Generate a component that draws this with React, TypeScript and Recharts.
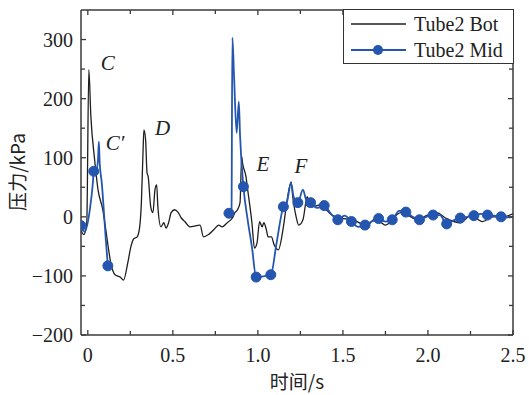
import { LineChart, Line, XAxis, YAxis, Legend, ReferenceDot } from 'recharts';

// Tube2 Bot (black)
const botTime = [
  -0.04, -0.025, -0.012, -0.006, 0.006, 0.018, 0.04, 0.06, 0.088, 0.106, 0.12, 0.135, 0.16, 0.19, 0.21,
  0.235, 0.253, 0.27, 0.29, 0.305, 0.315, 0.325, 0.33, 0.34, 0.348, 0.355, 0.37, 0.383, 0.395, 0.405,
  0.412, 0.43, 0.447, 0.46, 0.475, 0.49, 0.51, 0.53, 0.55, 0.57, 0.6, 0.64, 0.66, 0.68, 0.71, 0.74,
  0.77, 0.79, 0.82, 0.85, 0.865, 0.88, 0.895, 0.905, 0.91, 0.93, 0.94, 0.965, 0.98, 0.995, 1.01, 1.025,
  1.035, 1.05, 1.06, 1.08, 1.095, 1.12, 1.15, 1.17, 1.195, 1.205, 1.225, 1.24, 1.265, 1.29, 1.3, 1.32,
  1.365, 1.435, 1.48, 1.56, 1.64, 1.69, 1.75, 1.84, 1.88, 1.94, 1.99, 2.05, 2.11, 2.19, 2.25, 2.32,
  2.38, 2.44, 2.5,
];
const botPressure = [
  -22, -30, -22, -10, 249, 170, 97, 46, 12, -22, -51, -78, -98, -102, -107,
  -78, -51, -37, -34, -17, 24, 113, 147, 130, 75, 68, 17, 7, 46, 54,
  17, -17, -10, -19, -10, 7, 12, 8, -2, -8, -17, -15, -14, -34, -30, -22,
  -14, -17, -10, -2, 7, 12, 24, 102, 91, 68, 46, -10, -53, -44, -8, -17,
  -10, -22, -34, -34, -47, -56, -17, 24, 59, 34, 0, -14, -5, 34, 25, 17,
  20, 3, -2, -5, -15, -3, -14, 7, 3, -5, 2, 7, -3, -10, 2, -8,
  0, 0, 5,
];

// Tube2 Mid (blue), null = no record
const midTime = [
  -0.04, -0.018, 0.012, 0.03, 0.035, 0.047, 0.06, 0.065, 0.07, 0.082, 0.106, 0.118, 0.5,
  0.83, 0.845, 0.85, 0.86, 0.875, 0.888, 0.895, 0.915, 0.94, 0.965, 0.99, 1.076, 1.11, 1.15, 1.17,
  1.195, 1.21, 1.235, 1.265, 1.285, 1.31, 1.35, 1.39, 1.43, 1.47, 1.51, 1.55, 1.59, 1.63, 1.67,
  1.71, 1.75, 1.79, 1.83, 1.87, 1.91, 1.95, 1.99, 2.03, 2.07, 2.11, 2.15, 2.19, 2.23, 2.27, 2.31,
  2.35, 2.39, 2.43, 2.47, 2.5,
];
const midPressure = [
  -15, -25, 12, 58, 77, 75, 97, 127, 91, 58, -39, -83, null,
  6, 12, 303, 237, 142, 195, 139, 51, -5, -51, -102, -98, -44, 17, 24,
  57, 34, 24, 46, 28, 24, 15, 19, 5, -5, 2, -8, -17, -14, -8,
  -3, -8, -5, 10, 8, 0, -5, 0, 3, 3, -12, -6, -2, 0, 2, 5,
  3, 2, 0, -1, 0,
];
const midMarkerTimes = [
  -0.04, 0.035, 0.118, 0.83, 0.915, 0.99, 1.076, 1.15, 1.235, 1.31, 1.39, 1.47, 1.55, 1.63,
  1.71, 1.79, 1.87, 1.95, 2.03, 2.11, 2.19, 2.27, 2.35, 2.43,
];

const xTicks = [0, 0.25, 0.5, 0.75, 1, 1.25, 1.5, 1.75, 2, 2.25, 2.5];
const yTicks = [-200, -150, -100, -50, 0, 50, 100, 150, 200, 250, 300];

// peak annotations [label, t, p]
const notes: [string, number, number][] = [
  ['C', 0.118, 256],
  ['C′', 0.16, 122],
  ['D', 0.44, 147],
  ['E', 1.03, 85],
  ['F', 1.253, 83],
];

const botData = botTime.map((t, i) => ({ t, p: botPressure[i] }));
const midData = midTime.map((t, i) => ({ t, p: midPressure[i], m: midMarkerTimes.includes(t) }));

const SERIF = '"Liberation Serif", "DejaVu Serif", serif';
const CJK = '"Noto Sans CJK SC", sans-serif';
const AXIS = '#3a3a3a';
const BLUE = '#2456b0';
const BLACK = '#1e1e1e';

const isMajor = (v: number, step: number) => Math.abs(v / step - Math.round(v / step)) < 1e-6;
const fmtX = (v: number) => (v === 0 ? '0' : v.toFixed(1));
const fmtY = (v: number) => (v < 0 ? '−' + Math.abs(v) : String(v));

const BottomTick = ({ x, y, payload }: any) => {
  const major = isMajor(payload.value, 0.5);
  return (
    <g>
      <line x1={x} y1={y} x2={x} y2={y - (major ? 5 : 4)} stroke={AXIS} strokeWidth={1.3} />
      {major && (
        <text x={x} y={y + 27} textAnchor="middle" fontFamily={SERIF} fontSize={20} fill="#222">
          {fmtX(payload.value)}
        </text>
      )}
    </g>
  );
};

const TopTick = ({ x, y, payload }: any) => (
  <line x1={x} y1={y} x2={x} y2={y + (isMajor(payload.value, 0.5) ? 5 : 4)} stroke={AXIS} strokeWidth={1.3} />
);

const LeftTick = ({ x, y, payload }: any) => {
  const major = isMajor(payload.value, 100);
  return (
    <g>
      <line x1={x} y1={y} x2={x + (major ? 5 : 4)} y2={y} stroke={AXIS} strokeWidth={1.3} />
      {major && (
        <text x={x - 8} y={y + 7} textAnchor="end" fontFamily={SERIF} fontSize={20} fill="#222">
          {fmtY(payload.value)}
        </text>
      )}
    </g>
  );
};

const RightTick = ({ x, y, payload }: any) => (
  <line x1={x} y1={y} x2={x - (isMajor(payload.value, 100) ? 5 : 4)} y2={y} stroke={AXIS} strokeWidth={1.3} />
);

const YTitle = () => (
  <text x={20} y={172} transform="rotate(-90 20 172)" textAnchor="middle" dominantBaseline="middle"
    fontFamily={CJK} fontSize={19} fill="#222">
    压力/kPa
  </text>
);

const XTitle = () => (
  <text x={297} y={389} textAnchor="middle" fontFamily={CJK} fontSize={19} fill="#222">
    时间/s
  </text>
);

const MidDot = (props: any) => {
  const { cx, cy, payload, key } = props;
  if (cy == null || !payload?.m) return <g key={key} />;
  return <circle key={key} cx={cx} cy={cy} r={5} fill={BLUE} stroke={BLUE} />;
};

const LegendBox = ({ payload }: any) => (
  <div style={{ border: '1.5px solid #333', background: '#fff', paddingTop: 1, boxSizing: 'border-box', height: 55 }}>
    {(payload || []).map((item: any) => (
      <div key={item.value} style={{ display: 'flex', alignItems: 'center', height: 26 }}>
        <svg width={66} height={14} style={{ marginLeft: 4 }}>
          <line x1={3} y1={7} x2={58} y2={7} stroke={item.color} strokeWidth={item.color === BLUE ? 1.8 : 1.3} />
          {item.color === BLUE && <circle cx={30} cy={7} r={5} fill={BLUE} />}
        </svg>
        <span style={{ fontFamily: SERIF, fontSize: 20, color: '#222', lineHeight: '26px' }}>{item.value}</span>
      </div>
    ))}
  </div>
);

export default function App() {
  return (
    <div style={{ position: 'absolute', left: 0, top: 0 }}>
      <LineChart width={529} height={395} margin={{ top: 0, right: 0, bottom: 0, left: 0 }}>
        <XAxis xAxisId={0} type="number" dataKey="t" domain={[-0.04, 2.5]} ticks={xTicks} allowDataOverflow
          height={60} tickSize={0} tickMargin={0} tickLine={false} axisLine={{ stroke: AXIS, strokeWidth: 1.5 }}
          tick={<BottomTick />} interval={0} label={<XTitle />} />
        <XAxis xAxisId="top" orientation="top" type="number" dataKey="t" domain={[-0.04, 2.5]} ticks={xTicks}
          allowDataOverflow height={10} tickSize={0} tickMargin={0} tickLine={false}
          axisLine={{ stroke: AXIS, strokeWidth: 1.5 }} tick={<TopTick />} interval={0} />
        <YAxis yAxisId={0} type="number" domain={[-200, 350]} ticks={yTicks} allowDataOverflow width={81}
          tickSize={0} tickMargin={0} tickLine={false} axisLine={{ stroke: AXIS, strokeWidth: 1.5 }}
          tick={<LeftTick />} interval={0} label={<YTitle />} />
        <YAxis yAxisId="right" orientation="right" type="number" domain={[-200, 350]} ticks={yTicks}
          allowDataOverflow width={16} tickSize={0} tickMargin={0} tickLine={false}
          axisLine={{ stroke: AXIS, strokeWidth: 1.5 }} tick={<RightTick />} interval={0} />
        <Legend layout="vertical" align="center" verticalAlign="middle" content={<LegendBox />}
          wrapperStyle={{ left: 343, top: 9, width: 171 }} />
        <Line data={botData} dataKey="p" name="Tube2 Bot" type="monotone" stroke={BLACK} strokeWidth={1.3}
          dot={false} isAnimationActive={false} />
        <Line data={midData} dataKey="p" name="Tube2 Mid" type="monotone" stroke={BLUE} strokeWidth={1.8}
          dot={<MidDot />} activeDot={false} connectNulls={false} isAnimationActive={false} />
        {notes.map(([label, t, p]) => (
          <ReferenceDot key={label} x={t} y={p} r={0}
            shape={(s: any) => (
              <text x={s.cx} y={s.cy} textAnchor="middle" dominantBaseline="middle" fontFamily={SERIF}
                fontStyle="italic" fontSize={21} fill="#222">
                {label}
              </text>
            )} />
        ))}
      </LineChart>
    </div>
  );
}
